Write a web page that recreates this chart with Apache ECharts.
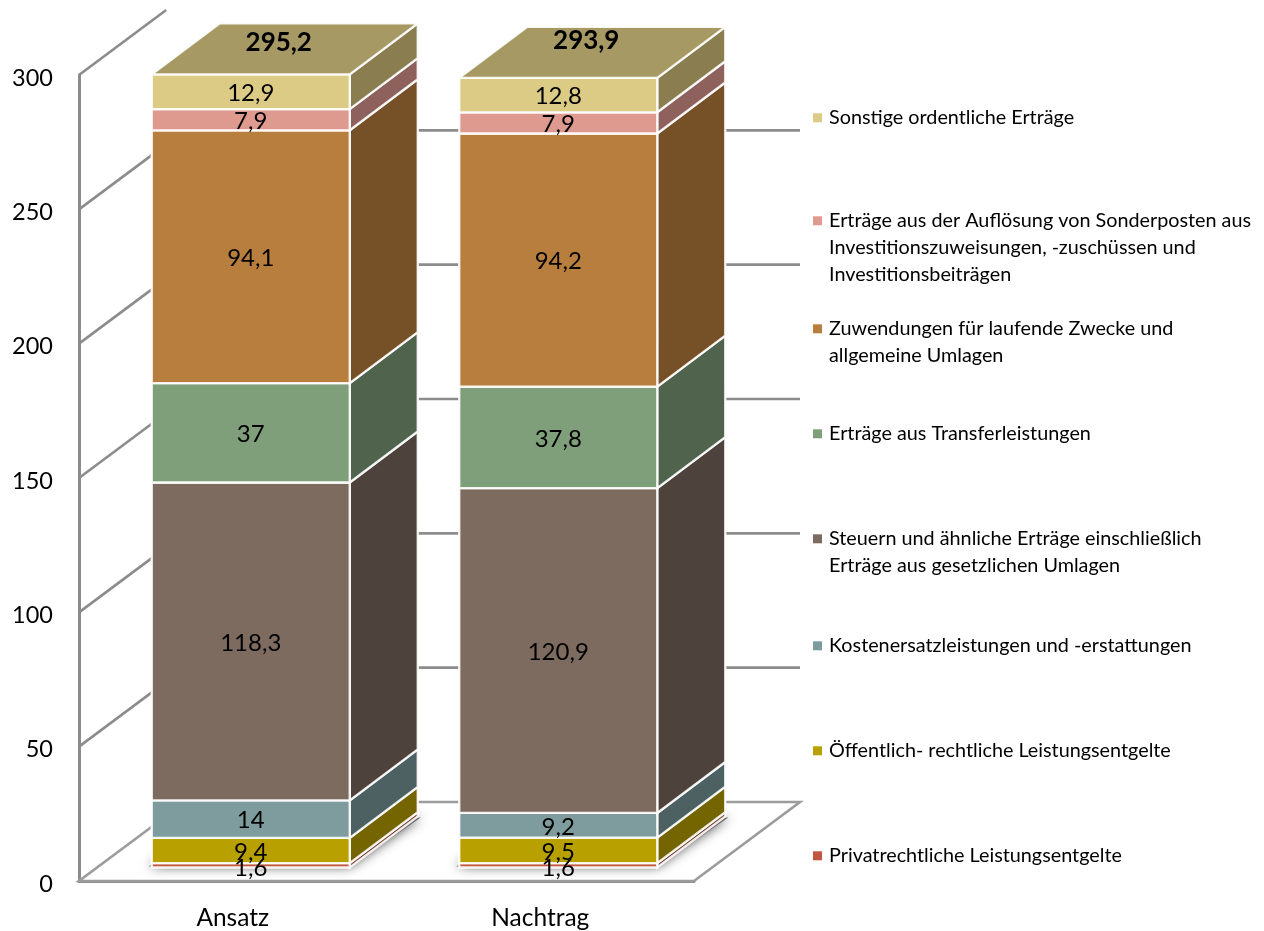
<!DOCTYPE html>
<html><head><meta charset="utf-8">
<style>html,body{margin:0;padding:0;background:#fff}#c{width:1264px;height:931px}</style>
<script src="https://cdn.jsdelivr.net/npm/echarts@6/dist/echarts.min.js"></script>
</head><body><div id="c"></div>
<script>
const categories = ['Ansatz', 'Nachtrag'];
const yTicks = [0, 50, 100, 150, 200, 250, 300];
const totals = [295.2, 293.9];
const privat = [1.6, 1.6];
const oeffentlich = [9.4, 9.5];
const kosten = [14, 9.2];
const steuern = [118.3, 120.9];
const transfer = [37, 37.8];
const zuwendungen = [94.1, 94.2];
const aufloesung = [7.9, 7.9];
const sonstige = [12.9, 12.8];

const FONT = 'Lato, Carlito, "Open Sans", sans-serif';
const stack = [
  {lines:['Privatrechtliche Leistungsentgelte'], v:privat, front:'#C0583F', side:'#7A3A2B', legendY:855},
  {lines:['Öffentlich- rechtliche Leistungsentgelte'], v:oeffentlich, front:'#B8A000', side:'#746500', legendY:750},
  {lines:['Kostenersatzleistungen und -erstattungen'], v:kosten, front:'#7E9C9D', side:'#4D6162', legendY:645},
  {lines:['Steuern und ähnliche Erträge einschließlich','Erträge aus gesetzlichen Umlagen'], v:steuern, front:'#7E6B60', side:'#4E423D', legendY:538},
  {lines:['Erträge aus Transferleistungen'], v:transfer, front:'#7F9E7A', side:'#50634D', legendY:433},
  {lines:['Zuwendungen für laufende Zwecke und','allgemeine Umlagen'], v:zuwendungen, front:'#B87E3E', side:'#765026', legendY:328},
  {lines:['Erträge aus der Auflösung von Sonderposten aus','Investitionszuweisungen, -zuschüssen und','Investitionsbeiträgen'], v:aufloesung, front:'#DF9A90', side:'#8F615C', legendY:220},
  {lines:['Sonstige ordentliche Erträge'], v:sonstige, front:'#DCCB85', side:'#8A7E50', legendY:117}
];

// 3D layout constants (pixels)
const WALL = {dx:106, dy:-79, clipTop:10};
const BAR = {half:99, inset:[18,-13.5], dx:68, dy:-51};
const totalNudge = [-6, -12];
const GRID = '#8C8C8C';

function wallRender(params, api){
  const v = api.value(1);
  const band = api.size([1,0])[0];
  const c0 = api.coord([0, v]);
  const left = c0[0] - band/2;
  const right = left + band*2;
  const y = c0[1];
  const children = [];
  let t = 1;
  if (y + WALL.dy < WALL.clipTop) t = (y - WALL.clipTop) / -WALL.dy;
  const lineStyle = {stroke: GRID, lineWidth: 2.6, fill:null};
  if (v === 0) {
    children.push({type:'polygon', shape:{points:[[left,y],[right,y],[right+WALL.dx,y+WALL.dy],[left+WALL.dx,y+WALL.dy]]},
      style:{fill:'#fff', stroke:'#9C9C9C', lineWidth:2.6}});
  } else {
    children.push({type:'line', shape:{x1:left,y1:y,x2:left+WALL.dx*t,y2:y+WALL.dy*t}, style:lineStyle});
    if (t === 1) children.push({type:'line', shape:{x1:left+WALL.dx,y1:y+WALL.dy,x2:right+WALL.dx,y2:y+WALL.dy}, style:lineStyle});
  }
  return {type:'group', children};
}

function shadowRender(params, api){
  const p = api.coord([api.value(0), 0]);
  const x0 = p[0]+BAR.inset[0]-BAR.half, x1 = p[0]+BAR.inset[0]+BAR.half, y = p[1]+BAR.inset[1];
  return {type:'polygon', shape:{points:[[x0-3,y-1],[x1,y-1],[x1+BAR.dx+3,y+BAR.dy+1],[x0+BAR.dx,y+BAR.dy+1]]},
    style:{fill:'#666', shadowBlur:12, shadowColor:'rgba(0,0,0,0.7)', shadowOffsetY:0}};
}

function segRender(item){
  return function(params, api){
    const i = api.value(0), b = api.value(1), h = api.value(2);
    const pb = api.coord([i, b]), pt = api.coord([i, b+h]);
    const x0 = pb[0]+BAR.inset[0]-BAR.half, x1 = pb[0]+BAR.inset[0]+BAR.half;
    const yb = pb[1]+BAR.inset[1], yt = pt[1]+BAR.inset[1];
    const border = {stroke:'rgba(255,255,255,0.9)', lineWidth:2.3};
    return {type:'group', children:[
      {type:'polygon', shape:{points:[[x1,yt],[x1+BAR.dx,yt+BAR.dy],[x1+BAR.dx,yb+BAR.dy],[x1,yb]]}, style:Object.assign({fill:item.side}, border)},
      {type:'rect', shape:{x:x0,y:yt,width:x1-x0,height:yb-yt}, style:Object.assign({fill:item.front}, border)},
      {type:'text', z2:20, style:{x:(x0+x1)/2, y:(yt+yb)/2 + (h<3?3:1.5), text:String(h).replace('.',','), align:'center', verticalAlign:'middle',
        fill:'#000', font:'24px '+FONT}}
    ]};
  };
}

function topRender(params, api){
  const i = api.value(0), t = api.value(1);
  const p = api.coord([i, t]);
  const x0 = p[0]+BAR.inset[0]-BAR.half, x1 = p[0]+BAR.inset[0]+BAR.half, y = p[1]+BAR.inset[1];
  return {type:'group', children:[
    {type:'polygon', shape:{points:[[x0,y],[x1,y],[x1+BAR.dx,y+BAR.dy],[x0+BAR.dx,y+BAR.dy]]},
      style:{fill:'#A69964', stroke:'rgba(255,255,255,0.9)', lineWidth:2.3}},
    {type:'text', z2:20, style:{x:(x0+x1)/2+BAR.dx/2-6, y:y+BAR.dy/2+totalNudge[i], text:String(t).replace('.',','), align:'center', verticalAlign:'middle',
      fill:'#000', font:'bold 26px '+FONT}}
  ]};
}

const bases = categories.map(()=>0);
const segSeries = stack.map(item=>{
  const data = item.v.map((h,i)=>{ const d=[i,bases[i],h]; bases[i]=+(bases[i]+h).toFixed(1); return d; });
  return {type:'custom', name:item.lines.join(' '), renderItem:segRender(item), data, clip:false, silent:true,
    encode:{x:0,y:1}, itemStyle:{color:item.front}, z:3};
});

const LEG_X = 813, TEXT_X = 829, LINE_H = 27, FS = 19.8;
const legends = stack.map(item=>({
  data:[item.lines.join(' ')], left:LEG_X, top:item.legendY-9.2, orient:'vertical', padding:0, itemGap:0, selectedMode:false,
  icon:'rect', itemWidth:9, itemHeight:9, formatter:()=>item.lines[0],
  textStyle:{fontFamily:FONT, fontSize:FS, color:'#000', padding:[0,0,0,2]}
}));
const extraText = [];
stack.forEach(item=>item.lines.slice(1).forEach((l,k)=>{
  extraText.push({type:'text', left:TEXT_X, top:item.legendY+LINE_H*(k+1)-9.2,
    style:{text:l, font:FS+'px '+FONT, fill:'#000'}});
}));

const chart = echarts.init(document.getElementById('c'), null, {renderer:'canvas'});
chart.setOption({
  animation:false,
  backgroundColor:'#fff',
  grid:{left:79, top:75, width:615, height:806, containLabel:false},
  legend:legends,
  graphic:extraText,
  tooltip:{show:false},
  xAxis:{type:'category', data:categories, axisTick:{show:false},
    axisLine:{lineStyle:{color:GRID,width:3}},
    axisLabel:{color:'#000', fontFamily:FONT, fontSize:24.5, margin:25}},
  yAxis:{type:'value', min:0, max:300, interval:50, splitLine:{show:false}, axisTick:{show:false},
    axisLine:{show:true, lineStyle:{color:GRID,width:3}},
    axisLabel:{color:'#000', fontFamily:FONT, fontSize:23.5, margin:26, verticalAlign:'top', padding:[-9,0,0,0]}},
  series:[
    {type:'custom', name:'wall', renderItem:wallRender, data:yTicks.map(v=>[0,v]), clip:false, silent:true, encode:{x:0,y:1}, z:1},
    {type:'custom', name:'shadow', renderItem:shadowRender, data:categories.map((c,i)=>[i,0]), clip:false, silent:true, encode:{x:0,y:1}, z:2},
    ...segSeries,
    {type:'custom', name:'total', renderItem:topRender, data:totals.map((t,i)=>[i,t]), clip:false, silent:true, encode:{x:0,y:1}, z:3}
  ]
});
</script></body></html>
